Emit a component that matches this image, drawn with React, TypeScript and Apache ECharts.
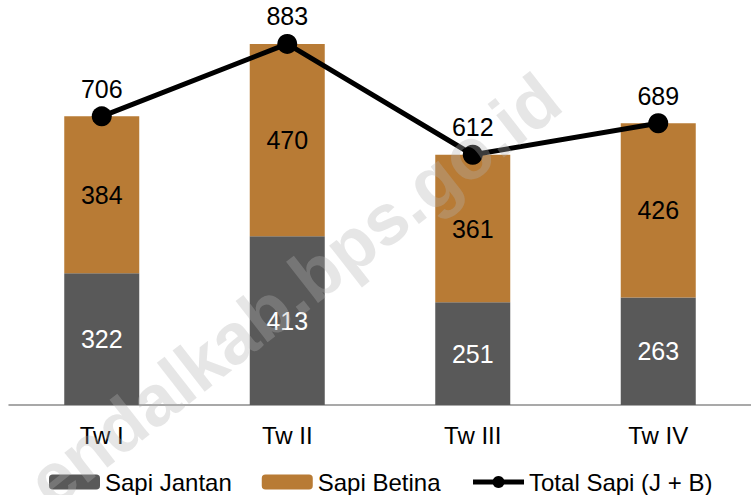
import React, { useEffect, useRef } from "react";
import * as echarts from "echarts";

const categories = ["Tw I", "Tw II", "Tw III", "Tw IV"];
const sapiJantan = [322, 413, 251, 263];
const sapiBetina = [384, 470, 361, 426];
const totalSapi = [706, 883, 612, 689];

const FONT = "'Liberation Sans', Arial, sans-serif";

export default function App() {
  const ref = useRef<HTMLDivElement>(null);
  useEffect(() => {
    if (!ref.current) return;
    const chart = echarts.init(ref.current, undefined, { renderer: "svg" });
    chart.setOption({
      animation: false,
      backgroundColor: "#ffffff",
      textStyle: { fontFamily: FONT },
      grid: { left: 9, right: 0, top: 37, bottom: 90, containLabel: false },
      legend: {
        left: 44,
        top: 465,
        itemWidth: 51,
        itemHeight: 15,
        itemGap: 30,
        textStyle: { fontSize: 24, color: "#000", fontFamily: FONT },
        data: [
          { name: "Sapi Jantan" },
          { name: "Sapi Betina" },
          { name: "Total Sapi (J + B)", lineStyle: { width: 5, color: "#000" } },
        ],
      },
      xAxis: {
        type: "category",
        data: categories,
        axisLine: { lineStyle: { color: "#8c8c8c", width: 1.5 } },
        axisTick: { length: 6, lineStyle: { color: "#8c8c8c", width: 1.5 } },
        axisLabel: { fontSize: 24, color: "#000", margin: 18, fontFamily: FONT },
      },
      yAxis: { type: "value", min: 0, max: 900, show: false, splitLine: { show: false } },
      series: [
        {
          name: "Sapi Jantan",
          type: "bar",
          stack: "total",
          data: sapiJantan,
          barWidth: 75,
          itemStyle: { color: "#595959" },
          label: { show: true, position: "inside", color: "#fff", fontSize: 25, fontFamily: FONT },
        },
        {
          name: "Sapi Betina",
          type: "bar",
          stack: "total",
          data: sapiBetina,
          barWidth: 75,
          itemStyle: { color: "#B87B35" },
          label: { show: true, position: "inside", color: "#000", fontSize: 25, fontFamily: FONT },
        },
        {
          name: "Total Sapi (J + B)",
          type: "line",
          data: totalSapi,
          symbol: "circle",
          symbolSize: 20,
          lineStyle: { color: "#000", width: 5 },
          itemStyle: { color: "#000" },
          label: { show: true, position: "top", distance: 5, color: "#000", fontSize: 25, fontFamily: FONT },
          z: 5,
        },
      ],
      graphic: [
        {
          type: "text",
          x: 294,
          y: 290,
          rotation: (38 * Math.PI) / 180,
          z: 100,
          style: {
            text: "endalkab.bps.go.id",
            fontSize: 72,
            fontWeight: "bold",
            fontFamily: FONT,
            fill: "rgba(180,180,180,0.33)",
            align: "center",
            verticalAlign: "middle",
          },
        },
      ],
    });
    return () => chart.dispose();
  }, []);
  return (
    <div
      ref={ref}
      style={{ position: "fixed", left: 0, top: 0, width: 751, height: 495 }}
    />
  );
}
